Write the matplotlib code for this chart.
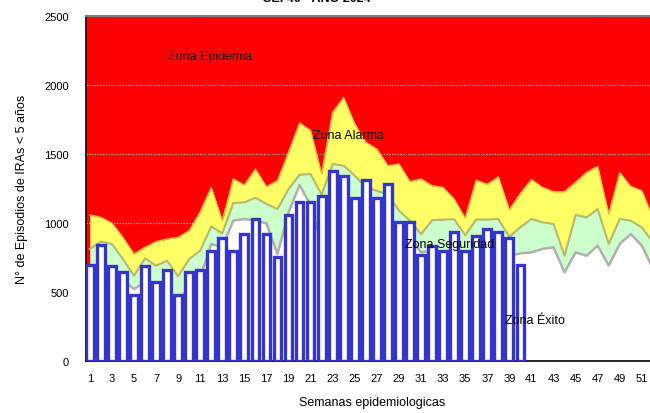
import numpy as np
import matplotlib
matplotlib.use('Agg')
import matplotlib.pyplot as plt

plt.rcParams['font.family'] = ['Liberation Sans', 'DejaVu Sans']

weeks = np.arange(1, 53)

# zona exito (upper edge of white area)
exito = [686, 694, 667, 582, 522, 570, 527, 493, 449, 522,
         605, 848, 824, 1017, 1029, 1017, 997, 775, 1077, 1275,
         1130, 850, 1210, 1175, 1140, 1000, 1040, 1029, 932, 896,
         787, 800, 790, 780, 715, 790, 790, 790, 763, 780,
         787, 812, 824, 643, 787, 763, 836, 691, 848, 920,
         836, 670]
# zona seguridad (upper edge of green area)
seguridad = [812, 865, 848, 739, 618, 744, 691, 727, 614, 739,
             800, 975, 925, 1145, 1150, 1183, 1138, 1101, 1246, 1350,
             1355, 1205, 1428, 1415, 1343, 1258, 1234, 1205, 1090, 1017,
             920, 1020, 1025, 1027, 912, 1025, 1025, 1029, 900, 970,
             1029, 1005, 993, 763, 1058, 1041, 1101, 848, 1029, 1017,
             968, 860]
# zona alarma (upper edge of yellow area)
alarma = [1058, 1041, 1000, 896, 775, 824, 865, 884, 896, 944,
          1080, 1258, 1017, 1319, 1275, 1391, 1263, 1307, 1512, 1725,
          1670, 1355, 1802, 1910, 1717, 1585, 1536, 1415, 1428, 1300,
          1319, 1270, 1258, 1174, 1035, 1310, 1280, 1335, 1095, 1215,
          1315, 1258, 1227, 1227, 1295, 1367, 1410, 1065, 1365, 1265,
          1234, 1040]

# casos 2024, semanas 1-40
casos = [695, 840, 690, 643, 481, 690, 570, 659, 481, 643,
         662, 799, 891, 799, 920, 1029, 920, 751, 1058, 1150,
         1150, 1193, 1374, 1343, 1179, 1314, 1179, 1283, 1010, 1010,
         768, 830, 800, 935, 800, 908, 957, 937, 891, 696]

xtick_labels = [str(w) for w in range(1, 52, 2)]

fig = plt.figure(figsize=(6.5, 4.14), dpi=100)
ax = fig.add_axes([85.7 / 650, 52 / 414, 572.7 / 650, 345 / 414])

ax.set_facecolor('#FF0000')
ax.fill_between(weeks, alarma, seguridad, color='#FFFF66', zorder=1, lw=0)
ax.fill_between(weeks, seguridad, exito, color='#CCFFCC', zorder=1, lw=0)
ax.fill_between(weeks, exito, 0, color='white', zorder=1, lw=0)
ax.plot(weeks, alarma, color='#E0C040', lw=1, zorder=2)
ax.plot(weeks, seguridad, color='#B8B870', lw=1.5, zorder=2)
ax.plot(weeks, exito, color='#B0B0B0', lw=1.8, zorder=2)

ax.bar(np.arange(1, len(casos) + 1), casos, width=0.7, color='white',
       edgecolor='#3535CC', lw=2.4, zorder=3)

ax.set_ylim(0, 2500)
ax.set_xlim(0.63, 52.5)
ax.set_yticks(range(0, 2501, 500))
ax.set_xticks(range(1, 52, 2))
ax.set_xticklabels(xtick_labels)
ax.tick_params(length=0, labelsize=8)
ax.tick_params(axis='x', pad=9)
ax.tick_params(axis='y', pad=12)
ax.grid(axis='y', color='#E8E8E8', ls=(0, (1, 1.5)), lw=0.8, zorder=0)
ax.set_axisbelow(True)

for s in ['left', 'bottom']:
    ax.spines[s].set_color('black')
    ax.spines[s].set_linewidth(1.2)
ax.spines['top'].set_color('#808080')
ax.spines['top'].set_linewidth(1.5)
ax.spines['right'].set_visible(False)

ax.set_xlabel('Semanas epidemiologicas', fontsize=9, labelpad=9)
ax.set_ylabel('N° de Episodios de IRAs < 5 años', fontsize=9, labelpad=12)

ax.text(8.1, 2210, 'Zona Epidemia', fontsize=9, va='center', zorder=5)
ax.text(21.2, 1638, 'Zona Alarma', fontsize=9, va='center', zorder=5)
ax.text(29.55, 848, 'Zona Seguridad', fontsize=9, va='center', zorder=5)
ax.text(38.6, 297, 'Zona Éxito', fontsize=9, va='center', zorder=5)

# title is cut off at the top edge in the reference
fig.text(317 / 650, 1 - 2.5 / 414, 'SE. 40 - AÑO 2024', ha='center',
         va='baseline', fontsize=9, fontweight='bold')

fig.savefig('out.png', dpi=100)
